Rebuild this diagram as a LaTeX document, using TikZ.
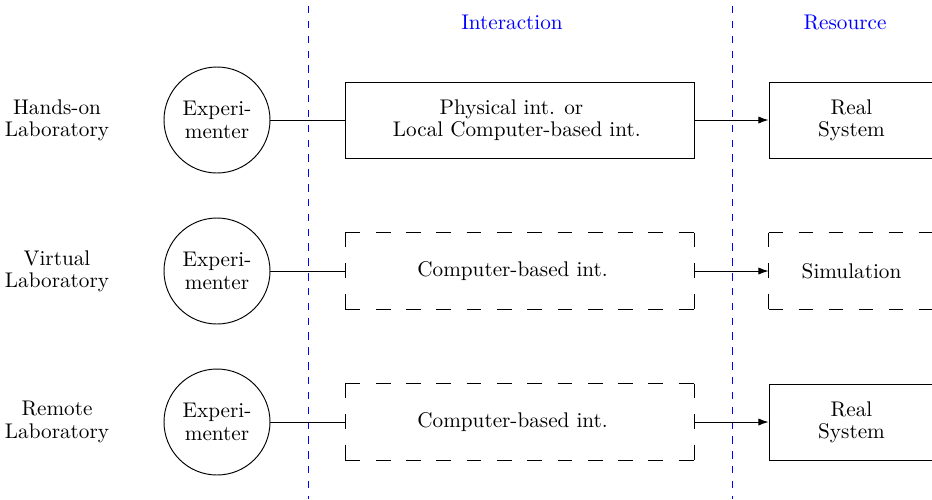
\documentclass[tikz,border=0pt]{standalone}
\usetikzlibrary{arrows.meta}
\begin{document}
\begin{tikzpicture}[x=0.4717pt,y=-0.4717pt,
  every node/.style={font=\fontsize{10}{10.5}\selectfont, align=center},
  every path/.style={line width=0.45pt},
  person/.style={circle, draw, minimum size=50pt, inner sep=0pt},
  boxshape/.style={rectangle, minimum height=35.85pt},
  solidbox/.style={boxshape, draw},
  dashbox/.style={boxshape},
  midbox/.style={minimum width=164.2pt},
  resbox/.style={minimum width=77.8pt},
  % dash patterns sized so that every edge begins and ends with a dash
  midedge/.style={dash pattern=on 7pt off 7.29pt},
  resedge/.style={dash pattern=on 7pt off 7.16pt},
  sideedge/.style={dash pattern=on 7pt off 7.43pt},
  divider/.style={blue, dash pattern=on 3.5pt off 3.5pt},
  heading/.style={text=blue},
  flow/.style={-{Latex[length=4.8pt,width=3.4pt]}}
]
\useasboundingbox (0,0) rectangle (932,499);

% column dividers
\coordinate (d1top) at (308,6);
\coordinate (d1bot) at (308,499);
\coordinate (d2top) at (732,6);
\coordinate (d2bot) at (732,499);
\draw[divider] (d1top) -- (d1bot);
\draw[divider] (d2top) -- (d2bot);

% column headings
\node[heading] (hint) at (512,22) {Interaction};
\node[heading] (hres) at (845,22) {Resource};

% hands-on laboratory
\node (lab1) at (57,120) {Hands-on\\Laboratory};
\node[person] (exp1) at (217,120) {Experi-\\menter};
\node[solidbox,midbox] (int1) at (520,120)
  {Physical int. or\hspace*{8pt}\\Local Computer-based int.\hspace*{3pt}};
\node[solidbox,resbox] (res1) at (851.5,120) {Real\\System};
\draw (exp1) -- (int1);
\draw[flow] (int1) -- (res1);

% virtual laboratory
\node (lab2) at (57,271) {Virtual\\Laboratory};
\node[person] (exp2) at (217,271) {Experi-\\menter};
\node[dashbox,midbox] (int2) at (520,271) {Computer-based int.\hspace*{7pt}};
\node[dashbox,resbox] (res2) at (851.5,271) {Simulation};
\draw[midedge] (int2.north west) -- (int2.north east);
\draw[midedge] (int2.south west) -- (int2.south east);
\draw[sideedge] (int2.north west) -- (int2.south west);
\draw[sideedge] (int2.north east) -- (int2.south east);
\draw[resedge] (res2.north west) -- (res2.north east);
\draw[resedge] (res2.south west) -- (res2.south east);
\draw[sideedge] (res2.north west) -- (res2.south west);
\draw (exp2) -- (int2);
\draw[flow] (int2) -- (res2);

% remote laboratory
\node (lab3) at (57,422) {Remote\\Laboratory};
\node[person] (exp3) at (217,422) {Experi-\\menter};
\node[dashbox,midbox] (int3) at (520,422) {Computer-based int.\hspace*{7pt}};
\node[solidbox,resbox] (res3) at (851.5,422) {Real\\System};
\draw[midedge] (int3.north west) -- (int3.north east);
\draw[midedge] (int3.south west) -- (int3.south east);
\draw[sideedge] (int3.north west) -- (int3.south west);
\draw[sideedge] (int3.north east) -- (int3.south east);
\draw (exp3) -- (int3);
\draw[flow] (int3) -- (res3);
\end{tikzpicture}
\end{document}
